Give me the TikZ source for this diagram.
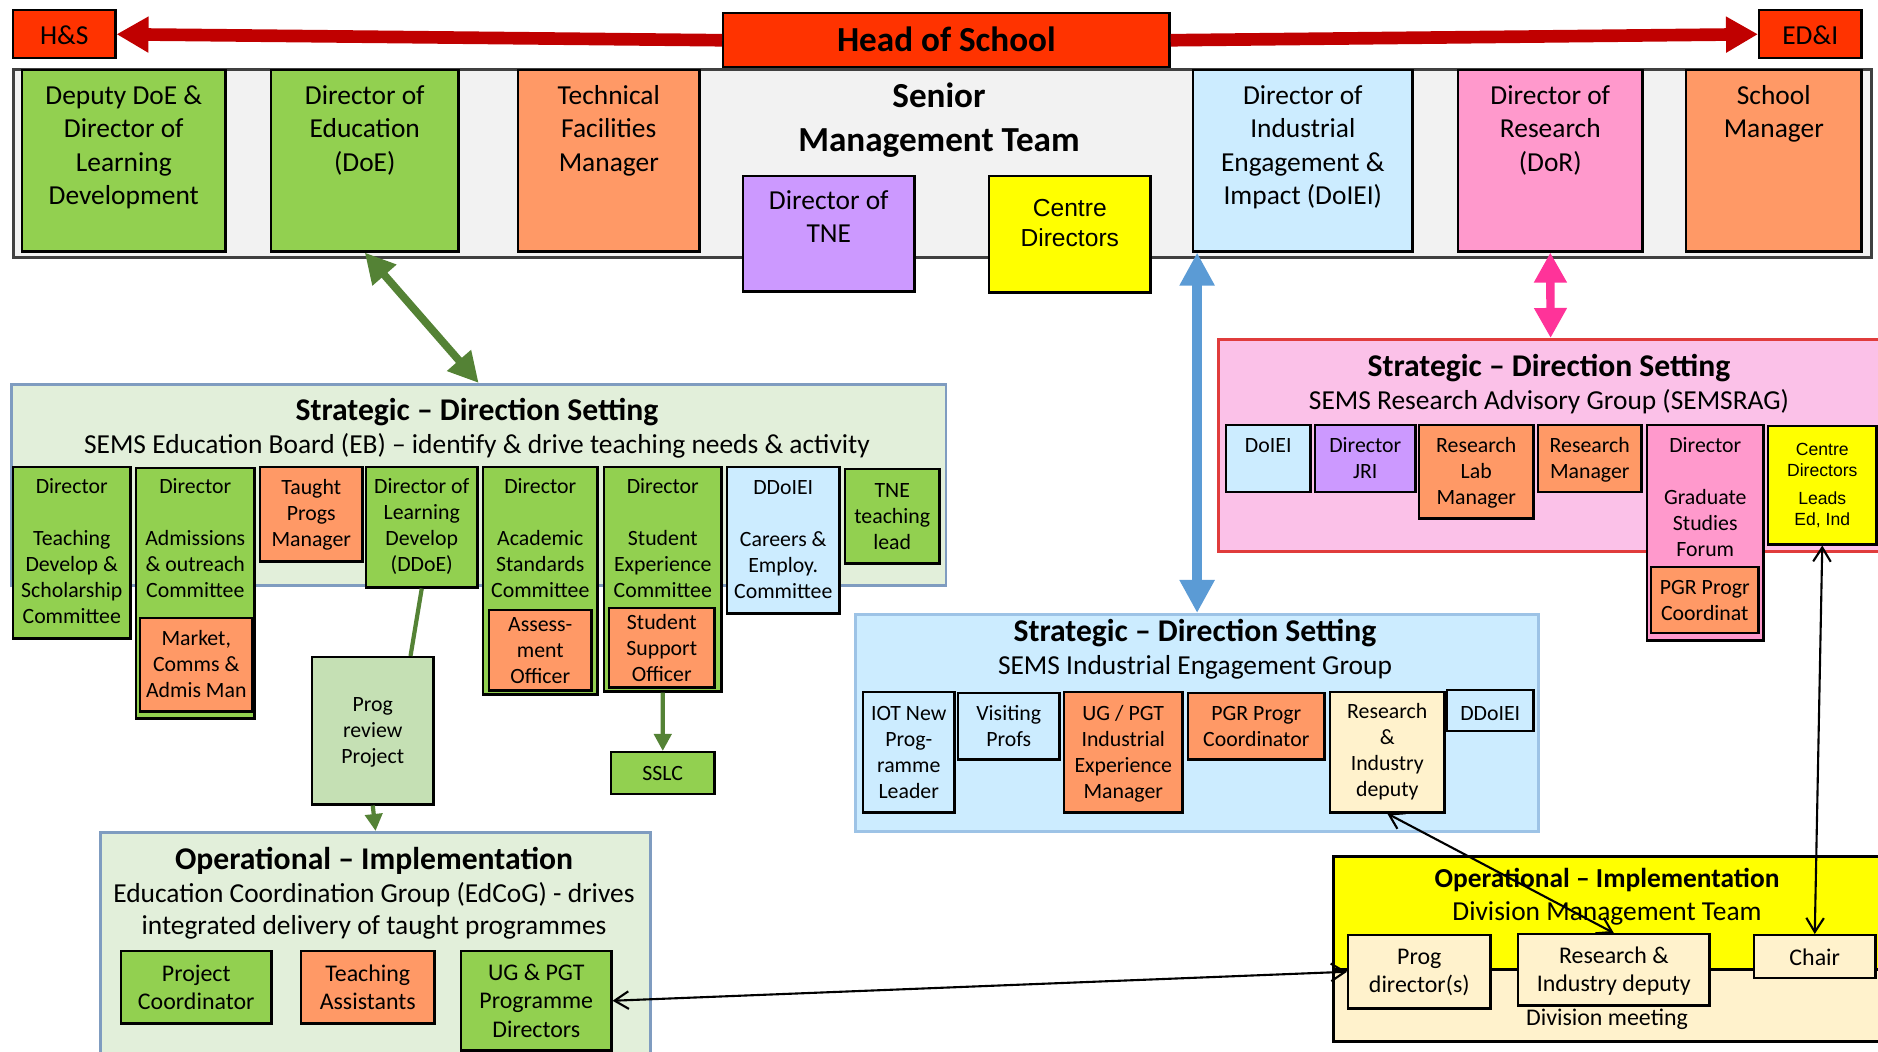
\documentclass[tikz,border=0pt]{standalone}
\usepackage{fontspec}
\setmainfont{Carlito}
\newfontfamily\arialfont{Liberation Sans}
\usetikzlibrary{arrows.meta}

\definecolor{grn}{HTML}{92D050}
\definecolor{org}{HTML}{FF9966}
\definecolor{pur}{HTML}{CC99FF}
\definecolor{yel}{HTML}{FFFF00}
\definecolor{lblue}{HTML}{CCECFF}
\definecolor{pnk}{HTML}{FF99CC}
\definecolor{lpnk}{HTML}{FBC1E8}
\definecolor{lgrn}{HTML}{E2EFDA}
\definecolor{pgrn}{HTML}{C5E0B4}
\definecolor{crm}{HTML}{FFF2CC}
\definecolor{hred}{HTML}{FF3300}
\definecolor{dred}{HTML}{C00000}
\definecolor{smtgray}{HTML}{F2F2F2}
\definecolor{smtline}{HTML}{404040}
\definecolor{dgrn}{HTML}{548235}
\definecolor{arblue}{HTML}{5B9BD5}
\definecolor{arpink}{HTML}{FF3399}
\definecolor{ebline}{HTML}{7F9CC0}
\definecolor{iegline}{HTML}{9DC3E6}
\definecolor{ragline}{HTML}{E03C3C}

\newcommand{\fntA}{\fontsize{7.8pt}{9.5pt}\selectfont}
\newcommand{\fntB}{\fontsize{6.2pt}{7.4pt}\selectfont}
\newcommand{\fntC}{\fontsize{6.8pt}{8.1pt}\selectfont}
\newcommand{\fntT}{\fontsize{9pt}{11pt}\selectfont\bfseries}
\newcommand{\fntH}{\fontsize{10pt}{12pt}\selectfont\bfseries}
\newcommand{\orgcell}[4]{\parbox[c][#2cm][t]{#1cm}{\centering\rule{0pt}{#3cm}#4\par}}

\tikzset{
  unit/.style={draw=black, line width=.7pt, inner sep=0pt, anchor=north west},
  bigcell/.style={unit, font=\fntA},
  smallcell/.style={unit, font=\fntB},
  midcell/.style={unit, font=\fntC},
  group/.style={line width=.8pt, inner sep=0pt, anchor=north west},
  head/.style={anchor=base, font=\fntH},
  ttl/.style={anchor=base, font=\fntT},
  sub/.style={anchor=base, font=\fntA},
  redarrow/.style={draw=dred, line width=3.6pt, -{Triangle[length=.32cm,width=.34cm]}},
  grnbig/.style={draw=dgrn, line width=2.2pt, {Triangle[length=.3cm,width=.3cm]}-{Triangle[length=.3cm,width=.3cm]}},
  bluebig/.style={draw=arblue, line width=2.8pt, {Triangle[length=.33cm,width=.33cm]}-{Triangle[length=.33cm,width=.33cm]}},
  pinkbig/.style={draw=arpink, line width=2.4pt, {Triangle[length=.3cm,width=.31cm]}-{Triangle[length=.3cm,width=.31cm]}},
  grnline/.style={draw=dgrn, line width=1.2pt},
  grnarrow/.style={draw=dgrn, line width=1.2pt, -{Triangle[length=.17cm,width=.17cm]}},
  thinarrow/.style={draw=black, line width=.6pt, {Straight Barb[length=4pt,width=5pt]}-{Straight Barb[length=4pt,width=5pt]}}
}

\begin{document}
\begin{tikzpicture}[x=0.01cm, y=-0.01cm]
\useasboundingbox (0,0) rectangle (1878,1052);
\clip (0,0) rectangle (1878,1052);

\node[group, draw=smtline, fill=smtgray, minimum width=18.57cm, minimum height=1.88cm] (smt) at (12,68) {};
\node[head] (smtttl1) at (939,108) {Senior};
\node[head] (smtttl2) at (939,152) {Management Team};

\node[unit, fill=hred, font=\fntH] (hos) at (722,12) {\orgcell{4.46}{.54}{.38}{Head of School}};
\node[bigcell, fill=hred] (hs) at (12,9) {\orgcell{1.02}{.48}{.34}{H\&S}};
\node[bigcell, fill=hred] (edi) at (1758,9) {\orgcell{1.02}{.48}{.34}{ED\&I}};

\node[bigcell, fill=grn] (dep) at (21,69) {\orgcell{2.03}{1.81}{.34}{Deputy DoE \&\\Director of\\Learning\\Development}};
\node[bigcell, fill=grn] (doe) at (270,69) {\orgcell{1.87}{1.81}{.34}{Director of\\Education\\(DoE)}};
\node[bigcell, fill=org] (tfm) at (517,69) {\orgcell{1.81}{1.81}{.34}{Technical\\Facilities\\Manager}};
\node[bigcell, fill=pur] (tne) at (742,175) {\orgcell{1.71}{1.15}{.33}{Director of\\TNE}};
\node[unit, fill=yel, font=\arialfont\fontsize{7pt}{8.5pt}\selectfont] (cds) at (988,175) {\orgcell{1.61}{1.16}{.40}{Centre\\Directors}};
\node[bigcell, fill=lblue] (doiei) at (1192,69) {\orgcell{2.19}{1.81}{.34}{Director of\\Industrial\\Engagement \&\\Impact (DoIEI)}};
\node[bigcell, fill=pnk] (dor) at (1457,69) {\orgcell{1.84}{1.81}{.34}{Director of\\Research\\(DoR)}};
\node[bigcell, fill=org] (sm) at (1685,69) {\orgcell{1.75}{1.81}{.34}{School\\Manager}};

\node[group, draw=ebline, fill=lgrn, minimum width=9.34cm, minimum height=2.01cm] (eb) at (10,383) {};
\node[ttl] (ebttl) at (477,421) {Strategic -- Direction Setting};
\node[sub] (ebsub) at (477,454) {SEMS Education Board (EB) -- identify \& drive teaching needs \& activity};

\node[smallcell, fill=grn] (tds) at (12,466) {\orgcell{1.17}{1.71}{.26}{Director\\[7.4pt]Teaching\\Develop \&\\Scholarship\\Committee}};
\node[smallcell, fill=grn] (adm) at (135,467) {\orgcell{1.18}{2.50}{.25}{Director\\[7.4pt]Admissions\\\& outreach\\Committee}};
\node[smallcell, fill=org] (mkt) at (139,617) {\orgcell{1.12}{.93}{.27}{Market,\\Comms \&\\Admis Man}};
\node[smallcell, fill=org] (tpm) at (259,466) {\orgcell{1.02}{.94}{.27}{Taught\\Progs\\Manager}};
\node[smallcell, fill=grn] (ddoe) at (365,466) {\orgcell{1.11}{1.20}{.26}{Director of\\Learning\\Develop\\(DDoE)}};
\node[smallcell, fill=grn] (acs) at (482,466) {\orgcell{1.14}{2.27}{.26}{Director\\[7.4pt]Academic\\Standards\\Committee}};
\node[smallcell, fill=org] (aso) at (488,609) {\orgcell{1.02}{.80}{.21}{Assess-\\ment\\Officer}};
\node[smallcell, fill=grn] (sexp) at (603,466) {\orgcell{1.17}{2.24}{.26}{Director\\[7.4pt]Student\\Experience\\Committee}};
\node[smallcell, fill=org] (sso) at (608,607) {\orgcell{1.05}{.79}{.21}{Student\\Support\\Officer}};
\node[smallcell, fill=lblue] (cec) at (726,466) {\orgcell{1.12}{1.46}{.27}{DDoIEI\\[7.4pt]Careers \&\\Employ.\\Committee}};
\node[smallcell, fill=grn] (tnel) at (844,468) {\orgcell{.94}{.94}{.28}{TNE\\teaching\\lead}};

\node[smallcell, fill=pgrn] (prog) at (311,656) {\orgcell{1.21}{1.47}{.54}{Prog\\review\\Project}};
\node[smallcell, fill=grn] (sslc) at (610,751) {\orgcell{1.03}{.42}{.28}{SSLC}};

\node[group, draw=ebline, fill=lgrn, minimum width=5.50cm, minimum height=2.40cm] (edcog) at (99,831) {};
\node[ttl] (edttl) at (374,869) {Operational -- Implementation};
\node[sub] (edsub1) at (374,902) {Education Coordination Group (EdCoG) - drives};
\node[sub] (edsub2) at (374,934) {integrated delivery of taught programmes};

\node[midcell, fill=grn] (pco) at (120,950) {\orgcell{1.50}{.72}{.30}{Project\\Coordinator}};
\node[midcell, fill=org] (ta) at (300,950) {\orgcell{1.33}{.72}{.30}{Teaching\\Assistants}};
\node[midcell, fill=grn] (ugpgt) at (460,950) {\orgcell{1.50}{.99}{.29}{UG \& PGT\\Programme\\Directors}};

\node[group, draw=iegline, fill=lblue, minimum width=6.83cm, minimum height=2.17cm] (ieg) at (854,613) {};
\node[ttl] (iegttl) at (1195,642) {Strategic -- Direction Setting};
\node[sub] (iegsub) at (1195,675) {SEMS Industrial Engagement Group};

\node[smallcell, fill=lblue] (iot) at (862,691) {\orgcell{.91}{1.20}{.28}{IOT New\\Prog-\\ramme\\Leader}};
\node[smallcell, fill=lblue] (vp) at (957,692) {\orgcell{1.01}{.66}{.27}{Visiting\\Profs}};
\node[smallcell, fill=org] (ugi) at (1063,691) {\orgcell{1.18}{1.20}{.28}{UG / PGT\\Industrial\\Experience\\Manager}};
\node[smallcell, fill=org] (pgrc) at (1187,692) {\orgcell{1.36}{.66}{.27}{PGR Progr\\Coordinator}};
\node[smallcell, fill=crm] (rid) at (1329,691) {\orgcell{1.14}{1.20}{.26}{Research\\\&\\Industry\\deputy}};
\node[smallcell, fill=lblue] (ddi) at (1446,689) {\orgcell{.86}{.41}{.30}{DDoIEI}};

\node[group, draw=ragline, fill=lpnk, minimum width=6.64cm, minimum height=2.12cm] (rag) at (1217,338) {};
\node[ttl] (ragttl) at (1549,377) {Strategic -- Direction Setting};
\node[sub] (ragsub) at (1549,410) {SEMS Research Advisory Group (SEMSRAG)};

\node[smallcell, fill=lblue] (rdi) at (1225,424) {\orgcell{.84}{.67}{.27}{DoIEI}};
\node[smallcell, fill=pur] (jri) at (1314,424) {\orgcell{1.00}{.67}{.27}{Director\\JRI}};
\node[smallcell, fill=org] (rlm) at (1418,424) {\orgcell{1.14}{.93}{.27}{Research\\Lab\\Manager}};
\node[smallcell, fill=org] (rm) at (1537,424) {\orgcell{1.03}{.67}{.27}{Research\\Manager}};
\node[smallcell, fill=pnk] (gsf) at (1646,424) {\orgcell{1.16}{2.15}{.27}{Director\\[7.4pt]Graduate\\Studies\\Forum}};
\node[smallcell, fill=org] (pgr) at (1650,566) {\orgcell{1.07}{.66}{.27}{PGR Progr\\Coordinat}};
\node[unit, fill=yel, font=\arialfont\fontsize{5pt}{6pt}\selectfont] (cdl) at (1767,425) {\orgcell{1.08}{1.18}{.29}{Centre\\Directors\\[2pt]Leads\\Ed, Ind}};

\node[group, draw=black, fill=yel, minimum width=5.48cm, minimum height=1.13cm] (dmt) at (1332,855) {};
\node[group, draw=black, fill=crm, minimum width=5.48cm, minimum height=.72cm] (dmeet) at (1332,968) {};
\node[anchor=base, font=\fntA\bfseries] (dmtttl) at (1607,887) {Operational -- Implementation};
\node[sub] (dmtsub) at (1607,920) {Division Management Team};
\node[anchor=base, font=\fntC] (dmeetttl) at (1607,1025) {Division meeting};

\node[midcell, fill=crm] (pdir) at (1347,934) {\orgcell{1.42}{.73}{.29}{Prog\\director(s)}};
\node[midcell, fill=crm] (drid) at (1517,933) {\orgcell{1.91}{.71}{.29}{Research \&\\Industry deputy}};
\node[midcell, fill=crm] (chair) at (1753,934) {\orgcell{1.21}{.43}{.30}{Chair}};

\draw[redarrow] (hos.west) -- (hs.east);
\draw[redarrow] (hos.east) -- (edi.west);
\draw[grnbig] (doe.south) -- (eb.north);
\draw[bluebig] (ieg.north |- doiei.south) -- (ieg.north);
\draw[pinkbig] (dor.south) -- (rag.north);
\draw[grnline] (ddoe.south) -- ([xshift=-.24cm]prog.north east);
\draw[grnarrow] (prog.south) -- (edcog.north);
\draw[grnarrow] (sexp.south) -- (sslc.north);
\draw[thinarrow] (pdir.west) -- (ugpgt.east);
\draw[thinarrow] (rid.south) -- (drid.north);
\draw[thinarrow] (cdl.south) -- (chair.north);
\end{tikzpicture}
\end{document}
